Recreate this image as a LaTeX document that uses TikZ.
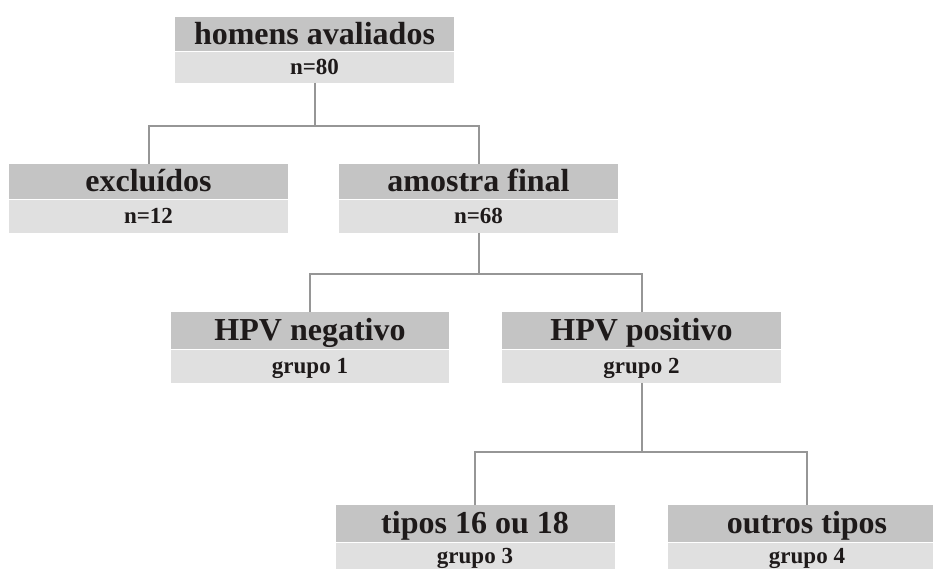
\documentclass[tikz,border=0pt]{standalone}
\usepackage{fontspec}
\setmainfont{Liberation Serif}
\definecolor{ttlgray}{RGB}{196,196,196}
\definecolor{subgray}{RGB}{224,224,224}
\definecolor{linegray}{RGB}{150,150,150}
\definecolor{inkc}{RGB}{30,26,26}
\begin{document}
\begin{tikzpicture}[x=1pt,y=-1pt,
  ttl/.style={rectangle,fill=ttlgray,inner sep=0pt,minimum width=279pt,
    text height=24pt,text depth=4pt,text=inkc,anchor=north,
    font=\fontsize{32}{32}\selectfont\bfseries},
  sub/.style={rectangle,fill=subgray,inner sep=0pt,minimum width=279pt,
    text height=18pt,text depth=3pt,text=inkc,anchor=north,
    font=\fontsize{23}{23}\selectfont\bfseries},
  link/.style={draw=linegray,line width=2pt}]
\useasboundingbox (0,0) rectangle (933,569);
\begin{scope}
\clip (0,0) rectangle (933,569);
% row 1
\node[ttl,minimum height=34pt] (b1) at (314.5,17) {homens avaliados};
\node[sub,minimum height=31pt] (b1s) at (b1.south) {n=80};
% row 2
\node[ttl,minimum height=35pt] (ex) at (148.5,164) {excluídos};
\node[sub,minimum height=33pt] (exs) at (ex.south) {n=12};
\node[ttl,minimum height=35pt] (am) at (478.5,164) {amostra final};
\node[sub,minimum height=33pt] (ams) at (am.south) {n=68};
% row 3
\node[ttl,minimum height=37pt,minimum width=278pt] (ng) at (310,312) {HPV negativo};
\node[sub,minimum height=33pt,minimum width=278pt] (ngs) at (ng.south) {grupo 1};
\node[ttl,minimum height=37pt] (ps) at (641.5,312) {HPV positivo};
\node[sub,minimum height=33pt] (pss) at (ps.south) {grupo 2};
% row 4
\node[ttl,minimum height=37pt] (tp) at (475,505) {tipos 16 ou 18};
\node[sub,minimum height=27pt] (tps) at (tp.south) {grupo 3};
\node[ttl,minimum height=37pt] (ot) at (807,505) {outros tipos};
\node[sub,minimum height=27pt] (ots) at (ot.south) {grupo 4};
% connectors
\draw[link] (b1s.south) -- ++(0,43) coordinate (j1);
\draw[link] (ex.north) |- (j1) -| (am.north);
\draw[link] (ams.south) -- ++(0,41) coordinate (j2);
\draw[link] (ng.north) |- (j2) -| (ps.north);
\draw[link] (pss.south) -- ++(0,69) coordinate (j3);
\draw[link] (tp.north) |- (j3) -| (ot.north);
\end{scope}
\end{tikzpicture}
\end{document}
